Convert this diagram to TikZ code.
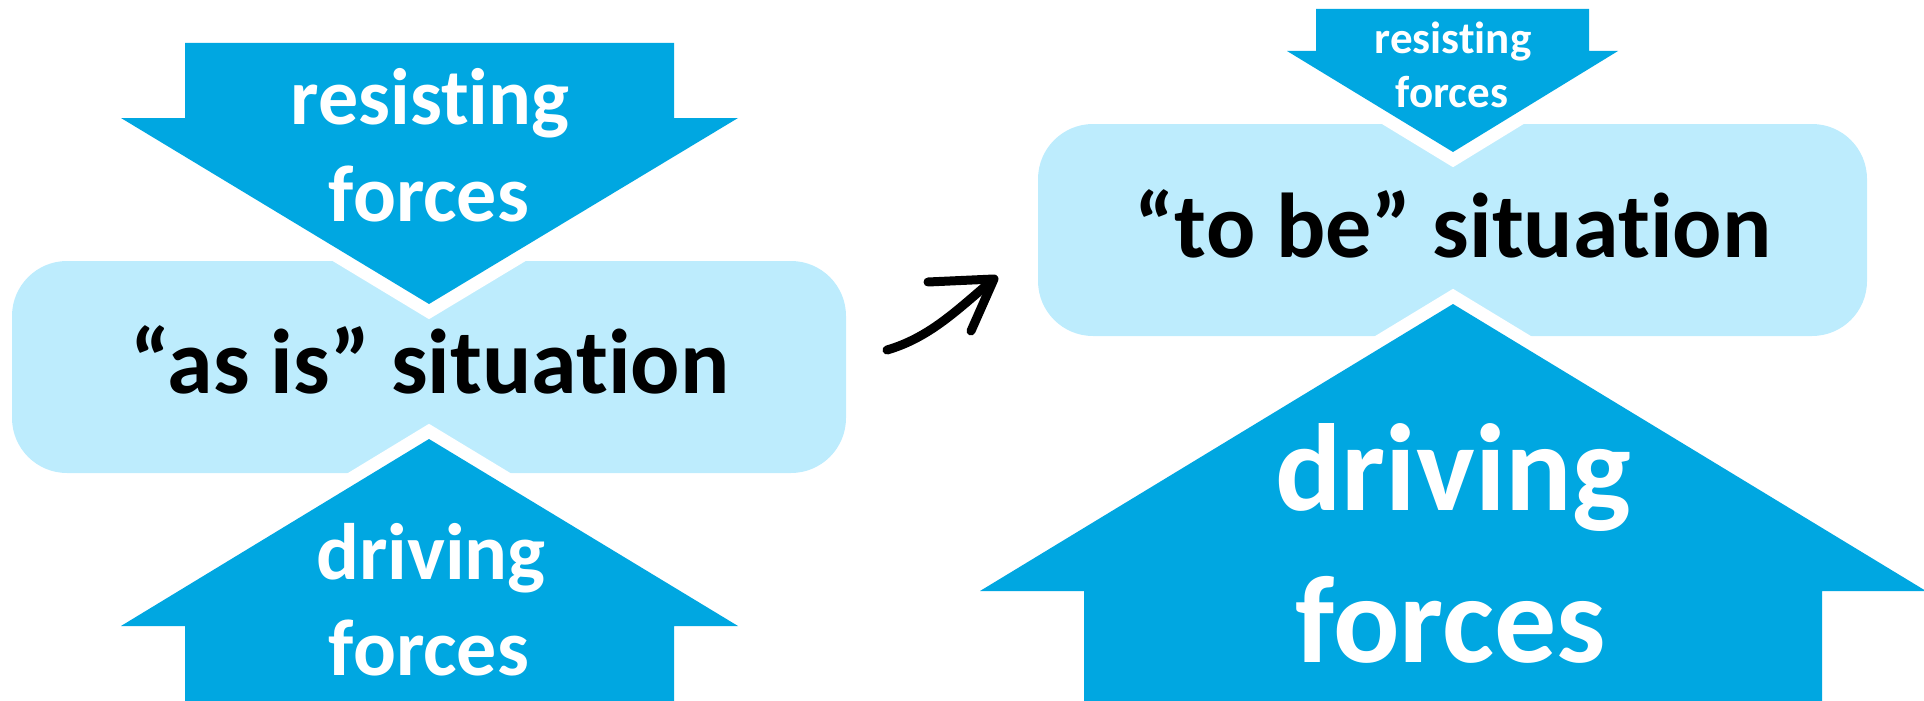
\documentclass[tikz,border=0pt]{standalone}
\usepackage{fontspec}
\setmainfont{Carlito}[Ligatures={NoCommon,NoRequired}]
\definecolor{arrowblue}{RGB}{0,167,225}
\definecolor{boxblue}{RGB}{189,236,253}
\begin{document}
\begin{tikzpicture}[x=1pt,y=-1pt,
  forcearrow/.style={fill=arrowblue, preaction={draw=white, line width=26pt, line join=miter}},
  sitbox/.style={fill=boxblue, rounded corners=55pt},
  lbl/.style={anchor=base, inner sep=0pt, font=\bfseries},
  wlbl/.style={lbl, text=white},
  scribble/.style={draw=black, line width=9pt, line cap=round, line join=round}]
\useasboundingbox (0,0) rectangle (1924,701);
% boxes
\fill[sitbox] (12,261) rectangle (846,473);
\fill[sitbox] (1038,124) rectangle (1867,336);
% left arrows
\path[forcearrow] (185,43) -- (674,43) -- (674,118) -- (738,118) -- (429,304) -- (121,118) -- (185,118) -- cycle;
\path[forcearrow] (185,720) -- (185,626) -- (121,626) -- (429,439) -- (738,626) -- (674,626) -- (674,720) -- cycle;
% right arrows
\path[forcearrow] (1316,9) -- (1589,9) -- (1589,51) -- (1618,51) -- (1453,152) -- (1287,51) -- (1316,51) -- cycle;
\path[forcearrow] (1084,720) -- (1084,591) -- (980,591) -- (1453,304) -- (1926,591) -- (1822,591) -- (1822,720) -- cycle;
% texts
\node[wlbl, font=\bfseries\fontsize{80}{96}\selectfont] (lres) at (430,124) {resisting};
\node[wlbl, font=\bfseries\fontsize{80}{96}\selectfont] (lresf) at (429,221) {forces};
\node[lbl, font=\bfseries\fontsize{92}{110}\selectfont] (asis) at (430,393) {“as is” situation};
\node[wlbl, font=\bfseries\fontsize{80}{96}\selectfont] (ldrv) at (431,579) {driving};
\node[wlbl, font=\bfseries\fontsize{80}{96}\selectfont] (ldrvf) at (429,675) {forces};
\node[wlbl, font=\bfseries\fontsize{45}{54}\selectfont] (rres) at (1453,53) {resisting};
\node[wlbl, font=\bfseries\fontsize{45}{54}\selectfont] (rresf) at (1452,107) {forces};
\node[lbl, font=\bfseries\fontsize{92}{110}\selectfont] (tobe) at (1453,257) {“to be” situation};
\node[wlbl, font=\bfseries\fontsize{124}{150}\selectfont] (rdrv) at (1453,510) {driving};
\node[wlbl, font=\bfseries\fontsize{124}{150}\selectfont] (rdrvf) at (1451,662) {forces};
% hand-drawn arrow
\coordinate (s0) at (887,350);
\coordinate (s1) at (988,284);
\coordinate (hl) at (928,282);
\coordinate (ht) at (994,279);
\coordinate (hb) at (971,331);
\draw[scribble] (s0) .. controls (928,338) and (955,312) .. (s1);
\draw[scribble] (hl) -- (ht) -- (hb);
\end{tikzpicture}
\end{document}
